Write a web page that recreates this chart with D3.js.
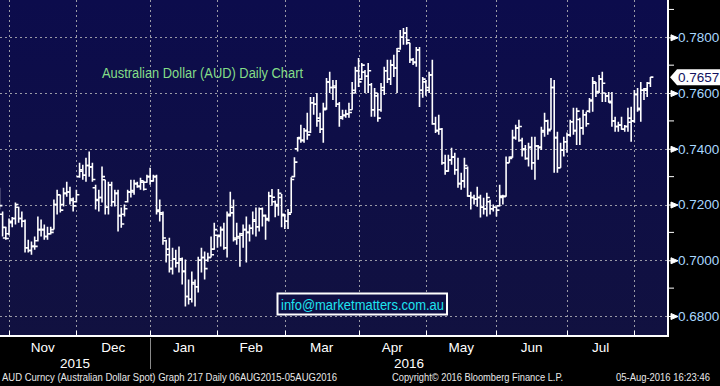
<!DOCTYPE html>
<html>
<head>
<meta charset="utf-8">
<script src="https://cdn.jsdelivr.net/npm/d3@7"></script>
<style>
  html, body { margin: 0; padding: 0; background: #000; }
  svg { display: block; font-family: "Liberation Sans", Arial, sans-serif; }
</style>
</head>
<body>
<svg id="chart" width="720" height="386"></svg>
<script>
// daily bars, 27 Oct 2015 .. 5 Aug 2016 (weekdays)
const opens = [
  0.7235, 0.7165, 0.7080, 0.7095, 0.7135, 0.7150, 0.7190, 0.7150, 0.7140, 0.7045,
  0.7035, 0.7050, 0.7070, 0.7110, 0.7110, 0.7085, 0.7095, 0.7110, 0.7200, 0.7235,
  0.7200, 0.7240, 0.7245, 0.7215, 0.7210, 0.7300, 0.7320, 0.7305, 0.7340, 0.7335,
  0.7260, 0.7215, 0.7225, 0.7289, 0.7190, 0.7270, 0.7210, 0.7240, 0.7160, 0.7165,
  0.7210, 0.7245, 0.7245, 0.7275, 0.7265, 0.7280, 0.7280, 0.7300, 0.7285, 0.7300,
  0.7180, 0.7165, 0.7070, 0.7040, 0.6970, 0.7005, 0.6990, 0.7000, 0.6960, 0.6870,
  0.6860, 0.6915, 0.6905, 0.7000, 0.7010, 0.7000, 0.7010, 0.7040, 0.7090, 0.7085,
  0.7110, 0.7045, 0.7165, 0.7190, 0.7075, 0.7080, 0.7090, 0.7110, 0.7100, 0.7115,
  0.7140, 0.7120, 0.7185, 0.7160, 0.7150, 0.7230, 0.7210, 0.7195, 0.7225, 0.7160,
  0.7140, 0.7170, 0.7300, 0.7400, 0.7440, 0.7430, 0.7465, 0.7460, 0.7565, 0.7560,
  0.7510, 0.7470, 0.7545, 0.7640, 0.7620, 0.7620, 0.7560, 0.7515, 0.7520, 0.7525,
  0.7540, 0.7610, 0.7680, 0.7650, 0.7675, 0.7660, 0.7630, 0.7540, 0.7590, 0.7540,
  0.7610, 0.7680, 0.7650, 0.7700, 0.7690, 0.7760, 0.7800, 0.7815, 0.7780, 0.7720,
  0.7710, 0.7755, 0.7610, 0.7640, 0.7620, 0.7665, 0.7490, 0.7465, 0.7470, 0.7350,
  0.7320, 0.7360, 0.7370, 0.7325, 0.7275, 0.7285, 0.7330, 0.7230, 0.7225, 0.7220,
  0.7225, 0.7190, 0.7185, 0.7210, 0.7185, 0.7190, 0.7195, 0.7225, 0.7230, 0.7350,
  0.7370, 0.7440, 0.7475, 0.7430, 0.7400, 0.7365, 0.7405, 0.7350, 0.7410, 0.7405,
  0.7460, 0.7500, 0.7470, 0.7620, 0.7440, 0.7332, 0.7395, 0.7425, 0.7450, 0.7497,
  0.7465, 0.7505, 0.7475, 0.7522, 0.7535, 0.7575, 0.7635, 0.7605, 0.7650, 0.7600,
  0.7590, 0.7565, 0.7500, 0.7480, 0.7485, 0.7470, 0.7480, 0.7495, 0.7500, 0.7595,
  0.7545, 0.7610, 0.7610, 0.7635
];
const highs = [
  0.7260, 0.7175, 0.7120, 0.7150, 0.7155, 0.7207, 0.7192, 0.7175, 0.7146, 0.7074,
  0.7067, 0.7085, 0.7157, 0.7146, 0.7128, 0.7120, 0.7120, 0.7218, 0.7253, 0.7235,
  0.7260, 0.7282, 0.7264, 0.7225, 0.7253, 0.7350, 0.7343, 0.7368, 0.7390, 0.7350,
  0.7271, 0.7253, 0.7336, 0.7289, 0.7282, 0.7282, 0.7253, 0.7253, 0.7189, 0.7200,
  0.7253, 0.7289, 0.7289, 0.7282, 0.7296, 0.7285, 0.7307, 0.7332, 0.7307, 0.7307,
  0.7218, 0.7175, 0.7074, 0.7081, 0.7045, 0.7038, 0.7049, 0.7010, 0.7003, 0.6931,
  0.6960, 0.6931, 0.7013, 0.7045, 0.7031, 0.7027, 0.7085, 0.7135, 0.7092, 0.7121,
  0.7135, 0.7175, 0.7246, 0.7218, 0.7135, 0.7099, 0.7128, 0.7157, 0.7128, 0.7175,
  0.7189, 0.7189, 0.7189, 0.7164, 0.7246, 0.7256, 0.7214, 0.7256, 0.7238, 0.7166,
  0.7184, 0.7298, 0.7370, 0.7442, 0.7486, 0.7475, 0.7529, 0.7586, 0.7586, 0.7600,
  0.7529, 0.7565, 0.7654, 0.7676, 0.7647, 0.7647, 0.7568, 0.7540, 0.7540, 0.7565,
  0.7640, 0.7694, 0.7726, 0.7708, 0.7683, 0.7708, 0.7636, 0.7618, 0.7600, 0.7636,
  0.7694, 0.7719, 0.7719, 0.7737, 0.7762, 0.7826, 0.7833, 0.7837, 0.7780, 0.7726,
  0.7765, 0.7765, 0.7658, 0.7647, 0.7676, 0.7719, 0.7515, 0.7522, 0.7475, 0.7379,
  0.7379, 0.7404, 0.7386, 0.7368, 0.7314, 0.7368, 0.7336, 0.7246, 0.7235, 0.7264,
  0.7235, 0.7224, 0.7242, 0.7217, 0.7200, 0.7193, 0.7271, 0.7235, 0.7372, 0.7372,
  0.7468, 0.7486, 0.7504, 0.7440, 0.7414, 0.7422, 0.7443, 0.7443, 0.7414, 0.7479,
  0.7529, 0.7504, 0.7654, 0.7647, 0.7461, 0.7422, 0.7443, 0.7458, 0.7504, 0.7547,
  0.7547, 0.7511, 0.7540, 0.7533, 0.7582, 0.7658, 0.7640, 0.7665, 0.7676, 0.7600,
  0.7604, 0.7604, 0.7515, 0.7497, 0.7515, 0.7485, 0.7547, 0.7551, 0.7611, 0.7618,
  0.7640, 0.7618, 0.7640, 0.7658
];
const lows = [
  0.7182, 0.7085, 0.7074, 0.7090, 0.7118, 0.7128, 0.7135, 0.7118, 0.7028, 0.7028,
  0.7020, 0.7038, 0.7067, 0.7085, 0.7074, 0.7074, 0.7092, 0.7110, 0.7164, 0.7171,
  0.7193, 0.7228, 0.7200, 0.7175, 0.7207, 0.7296, 0.7289, 0.7282, 0.7300, 0.7282,
  0.7182, 0.7175, 0.7207, 0.7164, 0.7164, 0.7193, 0.7193, 0.7103, 0.7117, 0.7157,
  0.7207, 0.7225, 0.7235, 0.7260, 0.7253, 0.7250, 0.7278, 0.7271, 0.7282, 0.7164,
  0.7139, 0.7056, 0.6992, 0.6956, 0.6949, 0.6974, 0.6956, 0.6913, 0.6834, 0.6841,
  0.6848, 0.6834, 0.6884, 0.6956, 0.6931, 0.6995, 0.7010, 0.7038, 0.7045, 0.7049,
  0.7038, 0.7010, 0.7157, 0.7067, 0.7056, 0.6977, 0.7045, 0.6992, 0.7067, 0.7092,
  0.7085, 0.7103, 0.7121, 0.7074, 0.7139, 0.7196, 0.7154, 0.7160, 0.7118, 0.7112,
  0.7112, 0.7170, 0.7298, 0.7390, 0.7422, 0.7422, 0.7432, 0.7457, 0.7522, 0.7479,
  0.7457, 0.7422, 0.7540, 0.7600, 0.7575, 0.7550, 0.7479, 0.7504, 0.7511, 0.7511,
  0.7540, 0.7600, 0.7622, 0.7647, 0.7600, 0.7600, 0.7515, 0.7515, 0.7497, 0.7533,
  0.7593, 0.7636, 0.7629, 0.7658, 0.7600, 0.7755, 0.7773, 0.7773, 0.7708, 0.7701,
  0.7694, 0.7550, 0.7583, 0.7590, 0.7600, 0.7486, 0.7457, 0.7450, 0.7343, 0.7307,
  0.7318, 0.7343, 0.7307, 0.7260, 0.7253, 0.7260, 0.7228, 0.7182, 0.7200, 0.7192,
  0.7153, 0.7164, 0.7157, 0.7164, 0.7175, 0.7157, 0.7193, 0.7200, 0.7228, 0.7350,
  0.7368, 0.7432, 0.7425, 0.7372, 0.7361, 0.7336, 0.7325, 0.7289, 0.7361, 0.7396,
  0.7443, 0.7450, 0.7468, 0.7314, 0.7314, 0.7332, 0.7372, 0.7386, 0.7443, 0.7450,
  0.7414, 0.7414, 0.7450, 0.7479, 0.7529, 0.7533, 0.7586, 0.7600, 0.7568, 0.7568,
  0.7565, 0.7479, 0.7461, 0.7461, 0.7468, 0.7461, 0.7461, 0.7425, 0.7493, 0.7533,
  0.7497, 0.7575, 0.7586, 0.7622
];
const closes = [
  0.7196, 0.7118, 0.7078, 0.7140, 0.7150, 0.7200, 0.7150, 0.7140, 0.7045, 0.7035,
  0.7050, 0.7050, 0.7110, 0.7110, 0.7085, 0.7095, 0.7100, 0.7200, 0.7235, 0.7180,
  0.7240, 0.7245, 0.7220, 0.7195, 0.7235, 0.7325, 0.7305, 0.7340, 0.7335, 0.7290,
  0.7218, 0.7225, 0.7300, 0.7190, 0.7270, 0.7210, 0.7240, 0.7160, 0.7130, 0.7185,
  0.7245, 0.7250, 0.7275, 0.7265, 0.7285, 0.7255, 0.7300, 0.7285, 0.7300, 0.7175,
  0.7170, 0.7080, 0.7020, 0.6970, 0.7005, 0.6990, 0.7005, 0.6960, 0.6870, 0.6860,
  0.6920, 0.6905, 0.7000, 0.7010, 0.6970, 0.7010, 0.7020, 0.7110, 0.7090, 0.7110,
  0.7045, 0.7160, 0.7170, 0.7080, 0.7085, 0.7095, 0.7110, 0.7100, 0.7115, 0.7145,
  0.7120, 0.7185, 0.7160, 0.7145, 0.7230, 0.7226, 0.7200, 0.7240, 0.7165, 0.7140,
  0.7165, 0.7290, 0.7352, 0.7436, 0.7430, 0.7465, 0.7450, 0.7565, 0.7560, 0.7500,
  0.7470, 0.7540, 0.7640, 0.7620, 0.7625, 0.7560, 0.7510, 0.7520, 0.7525, 0.7530,
  0.7600, 0.7680, 0.7640, 0.7700, 0.7660, 0.7680, 0.7540, 0.7600, 0.7510, 0.7620,
  0.7680, 0.7650, 0.7700, 0.7690, 0.7750, 0.7800, 0.7815, 0.7790, 0.7720, 0.7710,
  0.7755, 0.7610, 0.7650, 0.7610, 0.7665, 0.7490, 0.7465, 0.7470, 0.7350, 0.7320,
  0.7360, 0.7370, 0.7325, 0.7275, 0.7285, 0.7340, 0.7230, 0.7225, 0.7220, 0.7225,
  0.7190, 0.7185, 0.7225, 0.7185, 0.7190, 0.7180, 0.7230, 0.7228, 0.7350, 0.7365,
  0.7440, 0.7475, 0.7480, 0.7397, 0.7365, 0.7405, 0.7350, 0.7410, 0.7405, 0.7465,
  0.7500, 0.7465, 0.7620, 0.7440, 0.7332, 0.7395, 0.7425, 0.7450, 0.7497, 0.7465,
  0.7535, 0.7475, 0.7522, 0.7490, 0.7572, 0.7640, 0.7600, 0.7650, 0.7635, 0.7590,
  0.7570, 0.7500, 0.7480, 0.7485, 0.7470, 0.7480, 0.7510, 0.7500, 0.7595, 0.7540,
  0.7610, 0.7615, 0.7635, 0.7657
];

const yTicks = [0.68, 0.70, 0.72, 0.74, 0.76, 0.78];
const yMinorTicks = [0.69, 0.71, 0.73, 0.75, 0.77, 0.79];
const monthNames = ["Nov", "Dec", "Jan", "Feb", "Mar", "Apr", "May", "Jun", "Jul"];
const lastPrice = 0.7657;

const days = d3.timeDay
  .range(new Date(2015, 9, 27), new Date(2016, 7, 6))
  .filter((d) => d.getDay() !== 0 && d.getDay() !== 6);

const bars = days.map((date, i) => ({
  date, o: opens[i], h: highs[i], l: lows[i], c: closes[i]
}));

const plotRight = 668;
const plotBottom = 336;

const svg = d3.select("#chart");

const x = d3.scaleLinear().domain([0, days.length - 1]).range([-0.6, 650.4]);
const y = d3.scaleLinear().domain([0.68, 0.78]).range([316, 37.3]);

// month boundaries: grid line sits on last bar of the previous month
const monthStarts = d3.timeMonth.range(new Date(2015, 10, 1), new Date(2016, 7, 2));
const gridXs = monthStarts.map((m) => {
  const k = days.findIndex((d) => d >= m);
  return x(k - 1);
});

const defs = svg.append("defs");
const grad = defs.append("linearGradient").attr("id", "bg").attr("x1", 0).attr("y1", 0).attr("x2", 0).attr("y2", 1);
grad.append("stop").attr("offset", "0%").attr("stop-color", "#0c0c4c");
grad.append("stop").attr("offset", "100%").attr("stop-color", "#111140");
defs.append("clipPath").attr("id", "plotClip")
  .append("rect").attr("x", 0).attr("y", 0).attr("width", plotRight).attr("height", plotBottom);

svg.append("rect").attr("width", 720).attr("height", 386).attr("fill", "#000");
svg.append("rect").attr("x", 0).attr("y", 0)
  .attr("width", plotRight).attr("height", plotBottom).attr("fill", "url(#bg)");

// grid
const grid = svg.append("g").attr("stroke", "#9a9aa6").attr("stroke-width", 1)
  .attr("stroke-dasharray", "2 3");
grid.selectAll("line.h").data(yTicks).join("line")
  .attr("x1", 0).attr("x2", plotRight)
  .attr("y1", (d) => Math.round(y(d)) + 0.5).attr("y2", (d) => Math.round(y(d)) + 0.5);
grid.selectAll("line.v").data(gridXs).join("line")
  .attr("y1", 0).attr("y2", plotBottom)
  .attr("x1", (d) => Math.round(d) + 0.5).attr("x2", (d) => Math.round(d) + 0.5);

// OHLC bars
svg.append("g").attr("clip-path", "url(#plotClip)")
  .selectAll("path").data(bars).join("path")
  .attr("fill", "none").attr("stroke", "#fff").attr("stroke-width", 1.6)
  .attr("d", (d, i) => {
    const cx = x(i);
    return `M${cx},${y(d.h)}V${y(d.l)}M${cx - 3},${y(d.o)}H${cx}M${cx},${y(d.c)}H${cx + 3}`;
  });

// title
svg.append("text").attr("x", 102).attr("y", 78)
  .attr("fill", "#84de88").attr("font-size", 14)
  .attr("textLength", 201).attr("lengthAdjust", "spacingAndGlyphs")
  .text("Australian Dollar (AUD) Daily Chart");

// info box
svg.append("rect").attr("x", 277.5).attr("y", 293.5).attr("width", 169.5).attr("height", 21)
  .attr("fill", "#0f0f44").attr("stroke", "#fff").attr("stroke-width", 2);
svg.append("text").attr("x", 281).attr("y", 310)
  .attr("fill", "#1ee4f0").attr("font-size", 15.5)
  .attr("textLength", 163).attr("lengthAdjust", "spacingAndGlyphs")
  .text("info@marketmatters.com.au");

// axis lines
svg.append("line").attr("x1", 0).attr("x2", plotRight + 1).attr("y1", plotBottom).attr("y2", plotBottom)
  .attr("stroke", "#fff").attr("stroke-width", 2);
svg.append("line").attr("x1", plotRight).attr("x2", plotRight).attr("y1", 0).attr("y2", plotBottom + 1)
  .attr("stroke", "#fff").attr("stroke-width", 2);

// right axis
const yAxis = d3.axisRight(y).tickValues(yTicks).tickSize(0).tickPadding(10)
  .tickFormat(d3.format(".4f"));
const ya = svg.append("g").attr("transform", `translate(${plotRight},0)`).call(yAxis);
ya.select(".domain").remove();
ya.selectAll("text").attr("fill", "#a9d8ff").attr("font-size", 13.5)
  .attr("font-family", "'Liberation Sans', Arial, sans-serif");
ya.selectAll(".tick").append("path")
  .attr("d", "M0,0H4M3,-3L10,0L3,3Z").attr("fill", "#fff").attr("stroke", "#fff").attr("stroke-width", 1);
svg.append("g").selectAll("line").data(yMinorTicks).join("line")
  .attr("x1", plotRight).attr("x2", plotRight + 6)
  .attr("y1", (d) => y(d)).attr("y2", (d) => y(d))
  .attr("stroke", "#fff").attr("stroke-width", 1);

// last price tag
const ly = y(lastPrice);
svg.append("path")
  .attr("d", `M670,${ly}L677,${ly - 8}H720V${ly + 8}H677Z`).attr("fill", "#fff");
svg.append("text").attr("x", 678).attr("y", ly + 5)
  .attr("fill", "#121260").attr("font-size", 13.5).text(lastPrice.toFixed(4));

// bottom ticks and month labels
svg.append("g").selectAll("line").data(gridXs).join("line")
  .attr("x1", (d) => Math.round(d) + 0.5).attr("x2", (d) => Math.round(d) + 0.5)
  .attr("y1", plotBottom - 5).attr("y2", plotBottom)
  .attr("stroke", "#fff").attr("stroke-width", 1);

svg.append("g").selectAll("text").data(monthNames).join("text")
  .attr("x", (d, i) => (gridXs[i] + gridXs[i + 1]) / 2)
  .attr("y", 352).attr("text-anchor", "middle")
  .attr("fill", "#fff").attr("font-size", 13.5).text((d) => d);

const janX = gridXs[2];
svg.append("line").attr("x1", Math.round(janX) + 0.5).attr("x2", Math.round(janX) + 0.5)
  .attr("y1", plotBottom + 2).attr("y2", 369).attr("stroke", "#8a8a8a").attr("stroke-width", 1);
svg.append("text").attr("x", janX / 2).attr("y", 368).attr("text-anchor", "middle")
  .attr("fill", "#fff").attr("font-size", 13.5).text("2015");
svg.append("text").attr("x", (janX + plotRight) / 2).attr("y", 368).attr("text-anchor", "middle")
  .attr("fill", "#fff").attr("font-size", 13.5).text("2016");

// footer
const footer = svg.append("g").attr("fill", "#e8e8e8").attr("font-size", 10.5);
footer.append("text").attr("x", 2).attr("y", 381)
  .attr("textLength", 335).attr("lengthAdjust", "spacingAndGlyphs")
  .text("AUD Curncy (Australian Dollar Spot) Graph 217  Daily 06AUG2015-05AUG2016");
footer.append("text").attr("x", 392).attr("y", 381)
  .attr("textLength", 171).attr("lengthAdjust", "spacingAndGlyphs")
  .text("Copyright\u00a9 2016 Bloomberg Finance L.P.");
footer.append("text").attr("x", 616).attr("y", 381)
  .attr("textLength", 94).attr("lengthAdjust", "spacingAndGlyphs")
  .text("05-Aug-2016 16:23:46");
</script>
</body>
</html>
